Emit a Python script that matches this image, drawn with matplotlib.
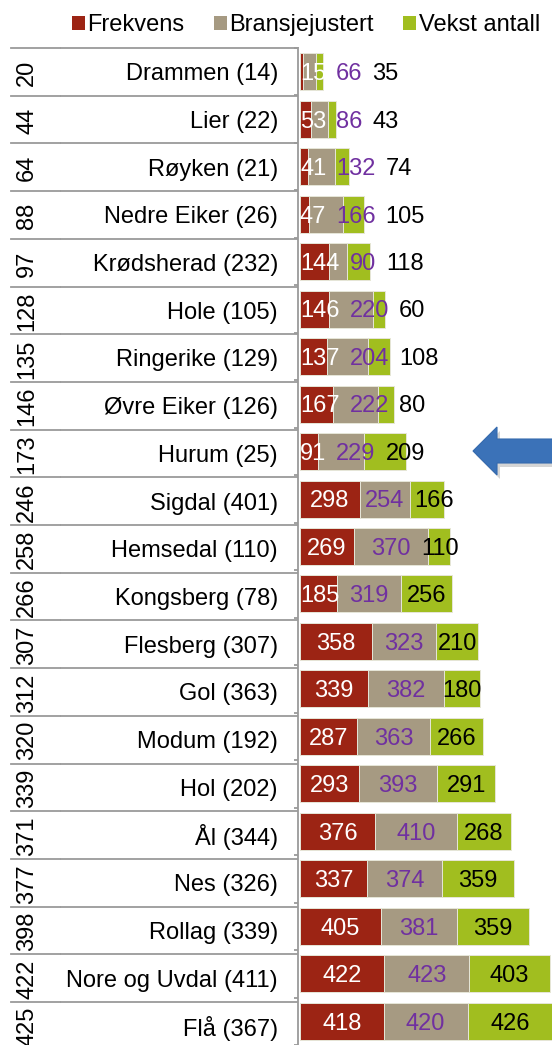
import matplotlib
matplotlib.use("Agg")
import matplotlib.pyplot as plt
from matplotlib.patches import Patch, Polygon

plt.rcParams['font.family'] = ['Liberation Sans', 'DejaVu Sans']

# kommuner, ovenfra og ned
names = ["Drammen (14)", "Lier (22)", "Røyken (21)", "Nedre Eiker (26)",
         "Krødsherad (232)", "Hole (105)", "Ringerike (129)", "Øvre Eiker (126)",
         "Hurum (25)", "Sigdal (401)", "Hemsedal (110)", "Kongsberg (78)",
         "Flesberg (307)", "Gol (363)", "Modum (192)", "Hol (202)", "Ål (344)",
         "Nes (326)", "Rollag (339)", "Nore og Uvdal (411)", "Flå (367)"]
rank_sum = [20, 44, 64, 88, 97, 128, 135, 146, 173, 246, 258, 266,
            307, 312, 320, 339, 371, 377, 398, 422, 425]
frekvens = [15, 53, 41, 47, 144, 146, 137, 167, 91, 298, 269, 185,
            358, 339, 287, 293, 376, 337, 405, 422, 418]
bransje = [66, 86, 132, 166, 90, 220, 204, 222, 229, 254, 370, 319,
           323, 382, 363, 393, 410, 374, 381, 423, 420]
vekst = [35, 43, 74, 105, 118, 60, 108, 80, 209, 166, 110, 256,
         210, 180, 266, 291, 268, 359, 359, 403, 426]
series = ["Frekvens", "Bransjejustert", "Vekst antall"]

colors = ['#9C2414', '#A69A82', '#A1BE1F']
label_colors = ['white', '#7030A0', 'black']
line_col = '#9A9A9A'

W, H = 552, 1045
top_px = 48
row_px = 47.7
fs = 17
dy = 0.05  # nudges text so the digits sit in the middle of the row
fig = plt.figure(figsize=(W / 100, H / 100), dpi=100)

n = len(names)
ybot = -0.5 + (H - top_px) / row_px
ah = (H - top_px) / H

# table on the left
ax_t = fig.add_axes([0, 0, 298 / W, ah])
ax_t.set_xlim(0, 298)
ax_t.set_ylim(ybot, -0.5)
ax_t.axis('off')
for k in range(n + 1):
    ax_t.plot([11, 60], [k - 0.5, k - 0.5], color=line_col, lw=1.3, clip_on=False)
    ax_t.plot([61, 298], [k - 0.5, k - 0.5], color=line_col, lw=1.3, clip_on=False)
for i in range(n):
    ax_t.text(27, i + 0.02, str(rank_sum[i]), rotation=90, ha='center',
              va='center', fontsize=17)
    ax_t.text(278, i + dy, names[i], ha='right', va='center', fontsize=fs)

# stacked bars
ax = fig.add_axes([298 / W, 0, (W - 298) / W, ah])
ax.set_xlim(-10, 1260)
ax.set_ylim(ybot, -0.5)
y = list(range(n))
left = [0] * n
data = [frekvens, bransje, vekst]
for vals, c in zip(data, colors):
    ax.barh(y, vals, left=left, height=0.78, color=c, edgecolor='#E6E6D8', lw=0.7)
    left = [l + v for l, v in zip(left, vals)]

# value labels, centred but pushed right when they would collide
units_per_px = 1270 / (W - 298)
digit_w = 0.556 * fs * 100 / 72 * units_per_px
gap = 10 * units_per_px
for i in range(n):
    start = 0
    prev_right = -gap
    for vals, lc in zip(data, label_colors):
        v = vals[i]
        w = len(str(v)) * digit_w
        lo = max(start + v / 2 - w / 2, prev_right + gap)
        ax.text(lo + w / 2, i + dy, str(v), ha='center', va='center', color=lc,
                fontsize=fs)
        prev_right = lo + w
        start += v

for s in ['top', 'right', 'bottom']:
    ax.spines[s].set_visible(False)
ax.spines['left'].set_color(line_col)
ax.spines['left'].set_linewidth(1.3)
ax.set_xticks([])
ax.set_yticks([k - 0.5 for k in range(n + 1)])
ax.set_yticklabels([])
ax.tick_params(axis='y', length=3, color=line_col, width=1.3)

# legend
handles = [Patch(facecolor=c, edgecolor='none') for c in colors]
fig.legend(handles, series, loc='center left', bbox_to_anchor=(72 / W, 1 - 25 / H),
           ncol=3, frameon=False, fontsize=fs, borderpad=0, borderaxespad=0,
           handlelength=0.53, handleheight=0.53, handletextpad=0.12,
           columnspacing=1.25)

# arrow pointing at Hurum
def px(pts):
    return [(x / W, 1 - yy / H) for x, yy in pts]

arrow = [(473, 451), (497, 427), (497, 439), (560, 439), (560, 463),
         (497, 463), (497, 475)]
shadow = [(x + 3, yy + 4) for x, yy in arrow]
fig.add_artist(Polygon(px(shadow), closed=True, transform=fig.transFigure,
                       facecolor='#888888', alpha=0.35, edgecolor='none'))
fig.add_artist(Polygon(px(arrow), closed=True, transform=fig.transFigure,
                       facecolor='#3B72B8', edgecolor='#356AAE', lw=0.8))

fig.savefig("out.png", dpi=100)
